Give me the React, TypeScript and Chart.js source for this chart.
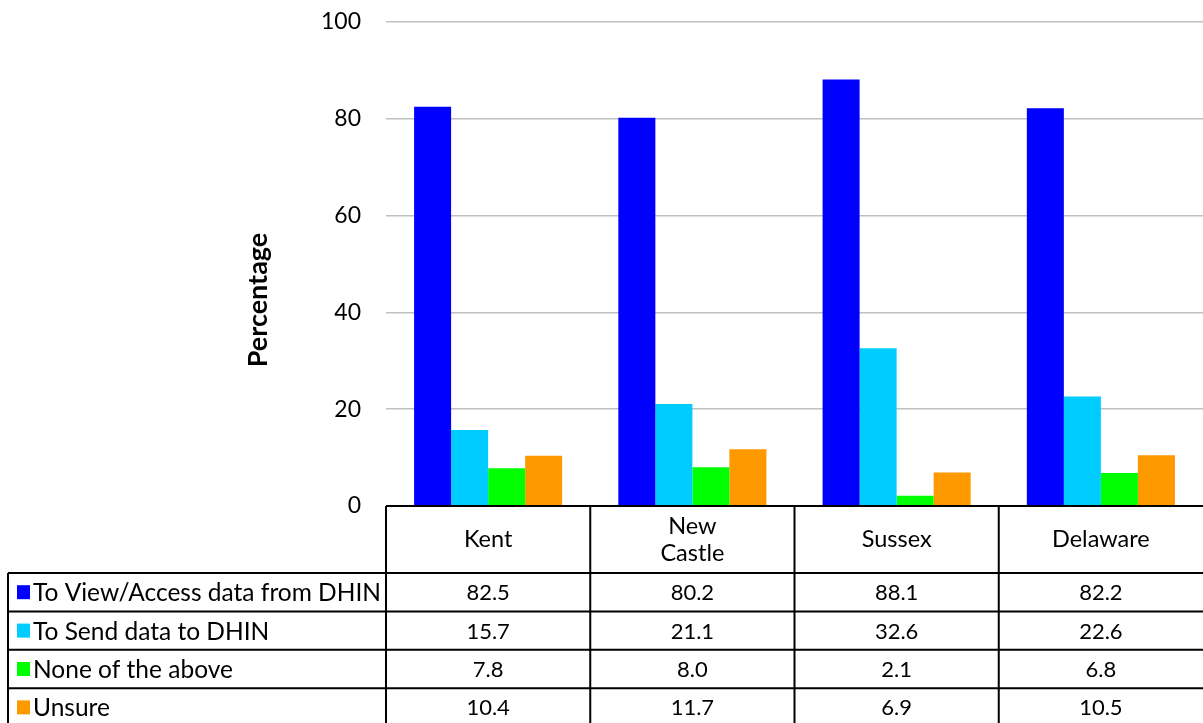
import React, { useEffect, useRef } from "react";
import { Chart, registerables } from "chart.js";

Chart.register(...registerables);

const categories: string[][] = [["Kent"], ["New", "Castle"], ["Sussex"], ["Delaware"]];
const seriesNames = [
  "To View/Access data from DHIN",
  "To Send data to DHIN",
  "None of the above",
  "Unsure",
];
const viewAccess = [82.5, 80.2, 88.1, 82.2];
const sendData = [15.7, 21.1, 32.6, 22.6];
const noneAbove = [7.8, 8.0, 2.1, 6.8];
const unsure = [10.4, 11.7, 6.9, 10.5];
const seriesColors = ["#0000FF", "#00CCFF", "#00FF00", "#FF9900"];
const yTicks = [0, 20, 40, 60, 80, 100];
const yTitle = "Percentage";

const FONT = "Lato, 'Noto Sans', sans-serif";

const tablePlugin = {
  id: "dataTable",
  afterDraw(chart: any) {
    const ctx = chart.ctx as CanvasRenderingContext2D;
    const area = chart.chartArea;
    const xs = chart.scales.x;
    const n = categories.length;
    const colW = (area.right - area.left) / n;
    const top = area.bottom;
    const headerBottom = 573;
    const rowH = 38.4;
    const bottom = chart.height + 5;
    const legendLeft = 8;

    ctx.save();
    ctx.strokeStyle = "#000";
    ctx.lineWidth = 2;
    ctx.beginPath();
    ctx.moveTo(area.left, top);
    ctx.lineTo(area.right + 2, top);
    for (let r = 0; r < seriesNames.length; r++) {
      const y = headerBottom + r * rowH;
      ctx.moveTo(legendLeft, y);
      ctx.lineTo(area.right + 2, y);
    }
    for (let i = 0; i < n; i++) {
      const x = xs.getPixelForValue(i) - colW / 2;
      ctx.moveTo(x, top);
      ctx.lineTo(x, bottom);
    }
    ctx.moveTo(legendLeft, headerBottom);
    ctx.lineTo(legendLeft, bottom);
    ctx.stroke();

    ctx.fillStyle = "#000";
    ctx.textAlign = "center";
    ctx.textBaseline = "middle";
    ctx.font = `23.5px ${FONT}`;
    const headerMid = (top + headerBottom) / 2;
    categories.forEach((lines, i) => {
      const cx = xs.getPixelForValue(i);
      const lh = 27;
      lines.forEach((ln, k) => {
        const y = headerMid + (k - (lines.length - 1) / 2) * lh;
        ctx.fillText(ln, cx, y);
      });
    });

    const allData = chart.data.datasets.map((d: any) => d.data as number[]);
    seriesNames.forEach((name, r) => {
      const yMid = headerBottom + r * rowH + rowH / 2;
      ctx.fillStyle = seriesColors[r];
      ctx.fillRect(17, yMid - 7, 13, 14);
      ctx.fillStyle = "#000";
      ctx.textAlign = "left";
      ctx.font = `24.5px ${FONT}`;
      ctx.fillText(name, 33, yMid + 1);
      ctx.textAlign = "center";
      ctx.font = `22px ${FONT}`;
      allData[r].forEach((v: number, i: number) => {
        ctx.fillText(v.toFixed(1), xs.getPixelForValue(i), yMid + 1);
      });
    });

    ctx.save();
    ctx.translate(258, 300);
    ctx.rotate(-Math.PI / 2);
    ctx.font = `bold 27px ${FONT}`;
    ctx.textAlign = "center";
    ctx.textBaseline = "middle";
    ctx.fillText(yTitle, 0, 0);
    ctx.restore();

    ctx.restore();
  },
};

export default function App() {
  const ref = useRef<HTMLCanvasElement | null>(null);
  useEffect(() => {
    document.body.style.margin = "0";
    const canvas = ref.current;
    if (!canvas) return;
    const datasets = [viewAccess, sendData, noneAbove, unsure].map((data, i) => ({
      label: seriesNames[i],
      data,
      backgroundColor: seriesColors[i],
      borderWidth: 0,
      categoryPercentage: 0.725,
      barPercentage: 1,
    }));
    const chart = new Chart(canvas, {
      type: "bar",
      data: { labels: categories.map((c) => c.join(" ")), datasets },
      options: {
        responsive: false,
        animation: false,
        layout: { padding: { top: 22, bottom: 217, left: 0, right: 0 } },
        plugins: {
          legend: { display: false },
          tooltip: { enabled: false },
          title: { display: false },
        },
        scales: {
          x: { display: false },
          y: {
            min: 0,
            max: 100,
            afterFit: (s: any) => {
              s.width = 386;
              s.paddingTop = 0;
              s.paddingBottom = 0;
            },
            afterBuildTicks: (s: any) => {
              s.ticks = yTicks.map((v) => ({ value: v }));
            },
            border: { display: false },
            grid: { color: "#c0c0c0", lineWidth: 1.5, drawTicks: false },
            ticks: {
              padding: 25,
              color: "#000",
              font: { family: FONT, size: 23 },
            },
          },
        },
      },
      plugins: [tablePlugin],
    });
    return () => chart.destroy();
  }, []);
  return (
    <div style={{ position: "fixed", left: 0, top: 0, width: 1203, height: 723, background: "#fff" }}>
      <canvas ref={ref} width={1203} height={723} />
    </div>
  );
}
